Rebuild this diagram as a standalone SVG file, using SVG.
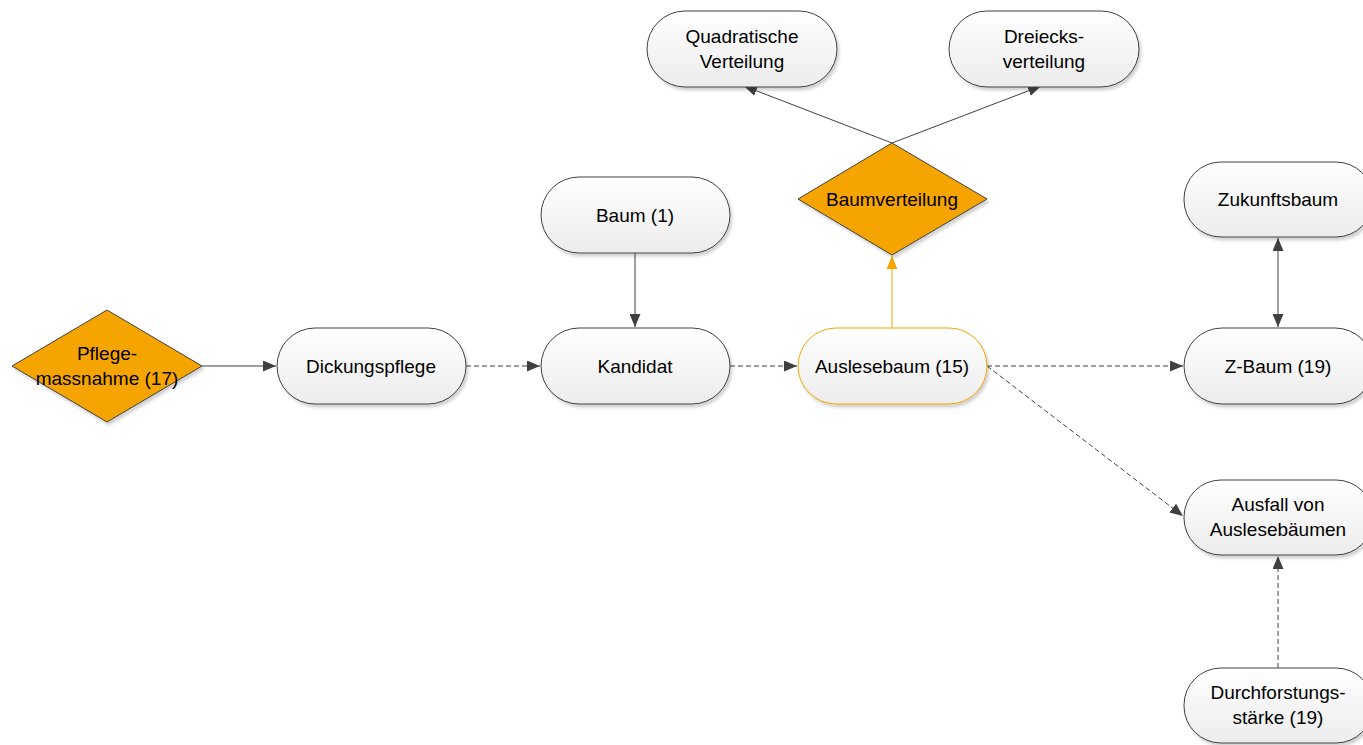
<svg xmlns="http://www.w3.org/2000/svg" width="1363" height="745" viewBox="0 0 1363 745">
<defs>
<linearGradient id="g" x1="0" y1="0" x2="0" y2="1">
<stop offset="0" stop-color="#ffffff"/>
<stop offset="1" stop-color="#ececec"/>
</linearGradient>
<filter id="sh" x="-10%" y="-10%" width="125%" height="135%">
<feDropShadow dx="2" dy="3" stdDeviation="1.5" flood-color="#000" flood-opacity="0.18"/>
</filter>
<marker id="a" viewBox="0 0 13 11" refX="13" refY="5.5" markerWidth="13" markerHeight="11" markerUnits="userSpaceOnUse" orient="auto">
<path d="M0,0 L13,5.5 L0,11 Z" fill="#404040"/>
</marker>
<marker id="as" viewBox="0 0 13 11" refX="13" refY="5.5" markerWidth="13" markerHeight="11" markerUnits="userSpaceOnUse" orient="auto-start-reverse">
<path d="M0,0 L13,5.5 L0,11 Z" fill="#404040"/>
</marker>
<marker id="ao" viewBox="0 0 13 11" refX="13" refY="5.5" markerWidth="13" markerHeight="11" markerUnits="userSpaceOnUse" orient="auto">
<path d="M0,0 L13,5.5 L0,11 Z" fill="#f5a400"/>
</marker>
</defs>
<style>
.n{fill:url(#g);stroke:#404040;stroke-width:1;filter:url(#sh)}
.d{fill:#f5a400;stroke:#404040;stroke-width:1;filter:url(#sh)}
.t{font-family:"Liberation Sans",Arial,sans-serif;font-size:19px;fill:#000;text-anchor:middle}
.c{fill:none;stroke:#404040;stroke-width:1}
.dash{stroke-dasharray:5,3}
</style>
<rect width="1363" height="745" fill="#fff"/>
<g id="connectors">
<line class="c" x1="202" y1="366" x2="276" y2="366" marker-end="url(#a)"/>
<line class="c dash" x1="466" y1="366" x2="540" y2="366" marker-end="url(#a)"/>
<line class="c dash" x1="730" y1="366" x2="797" y2="366" marker-end="url(#a)"/>
<line class="c" x1="635" y1="253" x2="635" y2="327" marker-end="url(#a)"/>
<line class="c" x1="892" y1="328" x2="892" y2="256" style="stroke:#f5a400" marker-end="url(#ao)"/>
<line class="c" x1="892" y1="143" x2="744" y2="86" marker-end="url(#a)"/>
<line class="c" x1="892" y1="143" x2="1041" y2="86" marker-end="url(#a)"/>
<line class="c dash" x1="987" y1="366" x2="1183" y2="366" marker-end="url(#a)"/>
<line class="c dash" x1="987" y1="366" x2="1183" y2="516" marker-end="url(#a)"/>
<line class="c dash" x1="1278" y1="668" x2="1278" y2="556" marker-end="url(#a)"/>
<line class="c" x1="1278" y1="238" x2="1278" y2="327" marker-start="url(#as)" marker-end="url(#a)"/>
</g>
<g id="pflegemassnahme">
<polygon class="d" points="12,366 107,310 202,366 107,422"/>
<text class="t" x="107" y="360">Pflege-</text>
<text class="t" x="107" y="385">massnahme (17)</text>
</g>
<g id="dickungspflege">
<rect class="n" x="277" y="328" width="189" height="76" rx="38"/>
<text class="t" x="371" y="373">Dickungspflege</text>
</g>
<g id="kandidat">
<rect class="n" x="541" y="328" width="189" height="76" rx="38"/>
<text class="t" x="635" y="373">Kandidat</text>
</g>
<g id="baum1">
<rect class="n" x="541" y="177" width="189" height="76" rx="38"/>
<text class="t" x="635" y="222">Baum (1)</text>
</g>
<g id="auslesebaum">
<rect class="n" x="798" y="328" width="189" height="76" rx="38" style="stroke:#f5a400"/>
<text class="t" x="892" y="373">Auslesebaum (15)</text>
</g>
<g id="baumverteilung">
<polygon class="d" points="798,199 892,143 987,199 892,255"/>
<text class="t" x="892" y="206">Baumverteilung</text>
</g>
<g id="quadratische">
<rect class="n" x="647" y="11" width="190" height="76" rx="38"/>
<text class="t" x="742" y="43">Quadratische</text>
<text class="t" x="742" y="68">Verteilung</text>
</g>
<g id="dreiecks">
<rect class="n" x="949" y="11" width="190" height="76" rx="38"/>
<text class="t" x="1044" y="43">Dreiecks-</text>
<text class="t" x="1044" y="68">verteilung</text>
</g>
<g id="zukunftsbaum">
<rect class="n" x="1184" y="162" width="189" height="75" rx="37"/>
<text class="t" x="1278" y="206">Zukunftsbaum</text>
</g>
<g id="zbaum">
<rect class="n" x="1184" y="328" width="189" height="76" rx="38"/>
<text class="t" x="1278" y="373">Z-Baum (19)</text>
</g>
<g id="ausfall">
<rect class="n" x="1184" y="480" width="189" height="75" rx="37"/>
<text class="t" x="1278" y="511">Ausfall von</text>
<text class="t" x="1278" y="536">Auslesebäumen</text>
</g>
<g id="durchforstung">
<rect class="n" x="1184" y="668" width="189" height="75" rx="37"/>
<text class="t" x="1278" y="699">Durchforstungs-</text>
<text class="t" x="1278" y="724">stärke (19)</text>
</g>
</svg>
